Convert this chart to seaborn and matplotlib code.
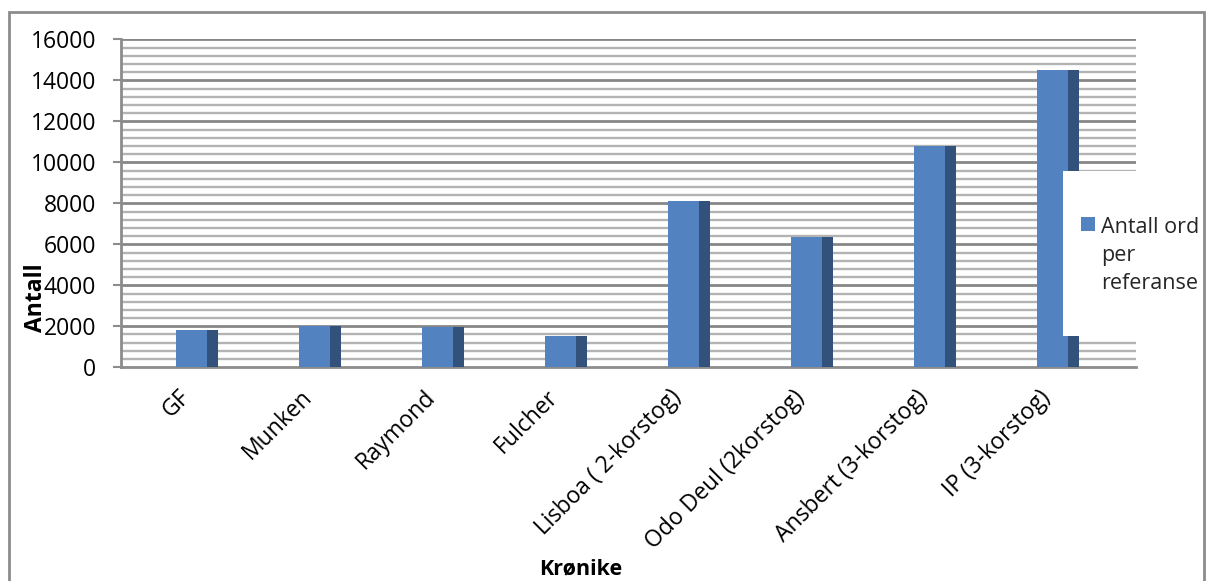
import matplotlib
matplotlib.use("Agg")
import matplotlib.pyplot as plt
import matplotlib.transforms as mtransforms
from matplotlib.patches import Patch, Rectangle
from matplotlib.ticker import MultipleLocator
import seaborn as sns
import pandas as pd

categories = ["GF", "Munken", "Raymond", "Fulcher", "Lisboa ( 2-korstog)",
              "Odo Deul (2korstog)", "Ansbert (3-korstog)", "IP (3-korstog)"]
values = [1820, 2010, 1980, 1540, 8100, 6360, 10810, 14500]
series_name = "Antall ord\nper\nreferanse"

df = pd.DataFrame({"Krønike": categories, "Antall": values})

sns.set_theme(style="white")
plt.rcParams["font.family"] = ["Open Sans", "DejaVu Sans"]

W, H = 1207, 581
fig = plt.figure(figsize=(W / 100, H / 100), dpi=100)
fig.patch.set_facecolor("white")

x0, x1 = 121, 1136
y0, y1 = 367.3, 39.3
ax = fig.add_axes([x0 / W, 1 - y0 / H, (x1 - x0) / W, (y0 - y1) / H])
ax.set_facecolor("white")

front_col = "#5283C0"
side_col = "#32527B"
full_w = 0.341
front_w = 0.252

sns.barplot(data=df, x="Krønike", y="Antall", order=categories, color=side_col,
            saturation=1, width=full_w, ax=ax, zorder=3, linewidth=0)
n_side = len(ax.patches)
sns.barplot(data=df, x="Krønike", y="Antall", order=categories, color=front_col,
            saturation=1, width=front_w, ax=ax, zorder=4, linewidth=0)
shift = (full_w - front_w) / 2
for p in ax.patches[n_side:]:
    p.set_x(p.get_x() - shift)

ax.set_xlim(-0.618, 7.634)
ax.set_ylim(0, 16000)
ax.yaxis.set_major_locator(MultipleLocator(2000))
ax.yaxis.set_minor_locator(MultipleLocator(400))
ax.grid(False)
ax.set_axisbelow(True)
for v in range(0, 16001, 400):
    if v == 0:
        continue
    major = v % 2000 == 0
    ax.axhline(v, color="#878787" if major else "#b3b3b3",
               lw=2.0 if major else 1.7, zorder=1)

for s in ["top", "right"]:
    ax.spines[s].set_visible(False)
ax.spines["left"].set_color("#8c8c8c")
ax.spines["left"].set_linewidth(2)
ax.spines["bottom"].set_color("#8c8c8c")
ax.spines["bottom"].set_linewidth(2)

ax.tick_params(axis="y", which="major", length=6, width=1.5, color="#8c8c8c",
               labelsize=16.5, pad=12, left=True, labelcolor="black")
ax.tick_params(axis="y", which="minor", length=0)
ax.tick_params(axis="x", length=0, labelsize=16.5, pad=6, labelcolor="black")

offset = mtransforms.ScaledTranslation(-11 / 100, -18 / 100, fig.dpi_scale_trans)
for lab in ax.get_xticklabels():
    lab.set_rotation(45)
    lab.set_ha("right")
    lab.set_va("center")
    lab.set_rotation_mode("anchor")
    lab.set_transform(lab.get_transform() + offset)

ax.set_ylabel("Antall", fontsize=16.5, fontweight="bold", color="black")
ax.yaxis.set_label_coords((36 - x0) / (x1 - x0), (y0 - 298) / (y0 - y1))
ax.yaxis.label.set_va("center")
ax.set_xlabel("Krønike", fontsize=15.5, fontweight="bold", color="black")
ax.xaxis.set_label_coords((581 - x0) / (x1 - x0), (y0 - 569) / (y0 - y1))
ax.xaxis.label.set_va("center")

# chart outer border
fig.patches.append(Rectangle((9 / W, -0.1), (1204 - 9) / W, 1.1 - 12.5 / H,
                             transform=fig.transFigure, fill=False,
                             edgecolor="#8c8c8c", lw=2, zorder=0))

# legend box
fig.patches.append(Rectangle((1063 / W, 1 - 336 / H), (1203 - 1063) / W, (336 - 171) / H,
                             transform=fig.transFigure, facecolor="white",
                             edgecolor="none", zorder=10))
leg = fig.legend(handles=[Patch(facecolor=front_col, edgecolor="none", label=series_name)],
                 loc="upper left", bbox_to_anchor=(1070 / W, 1 - 206 / H),
                 frameon=False, fontsize=15.5, handlelength=0.65, handleheight=0.65,
                 handletextpad=0.3, borderpad=0, labelspacing=0)
leg.set_zorder(11)
for t in leg.get_texts():
    t.set_linespacing(1.45)
try:
    for col in leg._legend_handle_box.get_children():
        for row in col.get_children():
            row.align = "top"
except Exception:
    pass

fig.savefig("out.png", dpi=100, facecolor="white")
